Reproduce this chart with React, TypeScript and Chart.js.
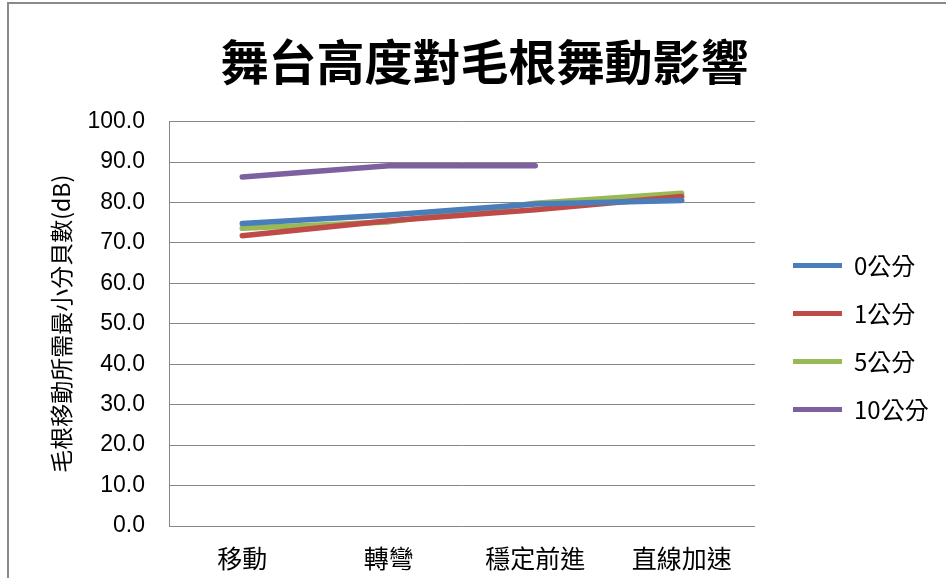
import React, { useEffect, useRef } from "react";
import { Chart, registerables } from "chart.js";

Chart.register(...registerables);

const chartTitle = "舞台高度對毛根舞動影響";
const yAxisTitle = "毛根移動所需最小分貝數(dB)";
const categories = ["移動", "轉彎", "穩定前進", "直線加速"];
const seriesNames = ["0公分", "1公分", "5公分", "10公分"];
const series0 = [74.8, 76.9, 79.6, 80.5];
const series1 = [71.8, 75.5, 78.2, 81.5];
const series5 = [73.6, 75.2, 79.8, 82.3];
const series10 = [86.3, 89.1, 89.1, null];
const seriesColors = ["#4A7EBB", "#BE4B48", "#98B954", "#7D60A0"];
const yMin = 0;
const yMax = 100;
const yStep = 10;

const CJK = "'Noto Sans CJK TC', 'Noto Sans CJK SC', sans-serif";
const LATIN = "'Liberation Sans', Arial, sans-serif";

const layoutFixPlugin = {
  id: "layoutFix",
  beforeLayout(chart: any) {
    const lg = chart.legend;
    if (lg && !lg.__patched) {
      const orig = lg.fit.bind(lg);
      lg.fit = function () {
        orig();
        this.width = 177;
      };
      lg.__patched = true;
    }
  },
  afterLayout(chart: any) {
    const tb = chart.titleBlock;
    if (tb) {
      tb.right = tb.right - 24;
      tb.width = tb.right - tb.left;
    }
  },
};

export default function App() {
  const canvasRef = useRef<HTMLCanvasElement | null>(null);

  useEffect(() => {
    if (!canvasRef.current) return;
    const values = [series0, series1, series5, series10];
    const chart = new Chart(canvasRef.current, {
      type: "line",
      data: {
        labels: categories,
        datasets: seriesNames.map((name, i) => ({
          label: name,
          data: values[i],
          borderColor: seriesColors[i],
          backgroundColor: seriesColors[i],
          borderWidth: 5.5,
          borderCapStyle: "round",
          borderJoinStyle: "round",
          pointRadius: 0,
          pointHoverRadius: 0,
          tension: 0,
          spanGaps: false,
          fill: false,
        })),
      },
      plugins: [layoutFixPlugin],
      options: {
        responsive: false,
        animation: false,
        layout: { padding: { left: 47, right: 0, top: 0, bottom: 0 } },
        plugins: {
          tooltip: { enabled: false },
          title: {
            display: true,
            text: chartTitle,
            color: "#000",
            font: { family: CJK, size: 48, weight: "bold", lineHeight: 1.2 },
            padding: { top: 33, bottom: 31 },
          },
          legend: {
            position: "right",
            align: "center",
            title: { display: true, text: "", padding: 34, font: { size: 24, lineHeight: 1.2 } },
            labels: {
              boxWidth: 49,
              boxHeight: 5,
              padding: 24,
              color: "#000",
              font: { family: CJK, size: 24 },
              generateLabels: (c: any) =>
                c.data.datasets.map((ds: any, i: number) => ({
                  text: ds.label,
                  fillStyle: seriesColors[i],
                  strokeStyle: seriesColors[i],
                  lineWidth: 0,
                  hidden: false,
                  datasetIndex: i,
                  fontColor: "#000",
                })),
            },
          },
        },
        scales: {
          x: {
            type: "category",
            offset: true,
            grid: { display: false, drawTicks: false },
            border: { display: false },
            ticks: {
              color: "#000",
              font: { family: CJK, size: 25 },
              padding: 17,
              maxRotation: 0,
              autoSkip: false,
            },
            afterFit: (scale: any) => {
              scale.height = 52;
            },
          },
          y: {
            min: yMin,
            max: yMax,
            position: "left",
            grid: { color: "#868686", lineWidth: 1, drawTicks: false },
            border: { display: true, color: "#868686", width: 1 },
            ticks: {
              stepSize: yStep,
              color: "#000",
              font: { family: LATIN, size: 23 },
              padding: 24,
              callback: (v: any) => Number(v).toFixed(1),
            },
            title: {
              display: true,
              text: yAxisTitle,
              color: "#000",
              font: { family: CJK, size: 23, lineHeight: 1.2 },
              padding: { top: 0, bottom: 0 },
            },
            afterFit: (scale: any) => {
              scale.width = 122;
            },
          },
          yRight: {
            position: "right",
            min: yMin,
            max: yMax,
            display: true,
            grid: { display: false, drawOnChartArea: false, drawTicks: false },
            border: { display: false },
            ticks: { display: false },
            afterFit: (scale: any) => {
              scale.width = 14;
            },
          },
        },
      } as any,
    });
    return () => chart.destroy();
  }, []);

  return (
    <div
      style={{
        position: "fixed",
        left: 0,
        top: 0,
        width: 946,
        height: 578,
        background: "#fff",
        overflow: "hidden",
      }}
    >
      <canvas ref={canvasRef} width={946} height={578} style={{ display: "block" }} />
      <div
        style={{
          position: "absolute",
          left: 7,
          top: 2,
          width: 1200,
          height: 1200,
          borderLeft: "2px solid #8a8a8a",
          borderTop: "2px solid #8a8a8a",
          pointerEvents: "none",
        }}
      />
    </div>
  );
}
